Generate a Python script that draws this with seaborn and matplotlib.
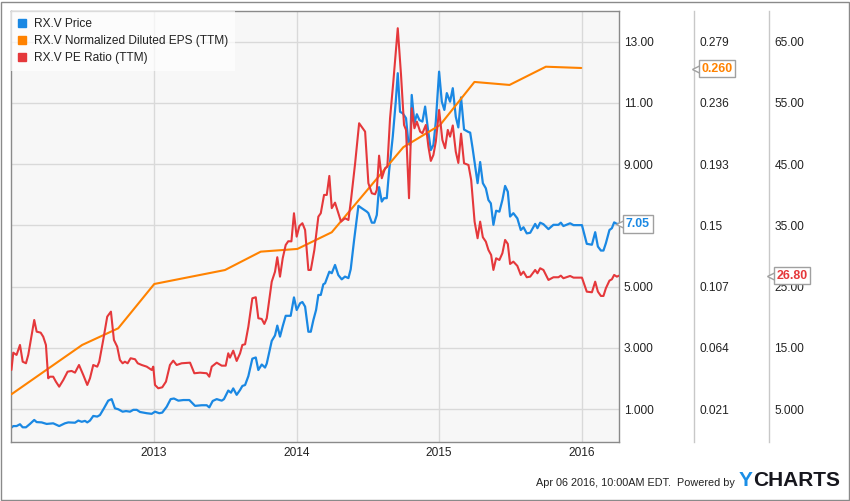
import matplotlib
matplotlib.use("Agg")
import matplotlib.pyplot as plt
import matplotlib.transforms as mtransforms
from matplotlib.lines import Line2D
from matplotlib.patches import Rectangle
import pandas as pd
import seaborn as sns

# ---- data (x = decimal year) ----
price_t = [2012.000, 2012.013, 2012.036, 2012.060, 2012.079, 2012.102, 2012.130, 2012.160, 2012.177, 2012.212,
           2012.247, 2012.293, 2012.335, 2012.375, 2012.399, 2012.446, 2012.469, 2012.493, 2012.516, 2012.532,
           2012.551, 2012.574, 2012.602, 2012.621, 2012.649, 2012.679, 2012.703, 2012.726, 2012.749, 2012.780,
           2012.804, 2012.832, 2012.855, 2012.879, 2012.902, 2012.949, 2012.984, 2013.007, 2013.037, 2013.058,
           2013.089, 2013.117, 2013.140, 2013.171, 2013.206, 2013.248, 2013.288, 2013.335, 2013.370, 2013.388,
           2013.412, 2013.440, 2013.475, 2013.491, 2013.521, 2013.540, 2013.556, 2013.580, 2013.604, 2013.620,
           2013.639, 2013.662, 2013.690, 2013.714, 2013.732, 2013.756, 2013.779, 2013.791, 2013.826, 2013.849,
           2013.865, 2013.884, 2013.903, 2013.924, 2013.959, 2013.982, 2014.001, 2014.025, 2014.041, 2014.060,
           2014.083, 2014.100, 2014.118, 2014.137, 2014.153, 2014.170, 2014.188, 2014.200, 2014.230, 2014.247,
           2014.270, 2014.293, 2014.317, 2014.340, 2014.364, 2014.380, 2014.404, 2014.434, 2014.458, 2014.493,
           2014.504, 2014.528, 2014.546, 2014.563, 2014.579, 2014.598, 2014.614, 2014.633, 2014.649, 2014.675,
           2014.696, 2014.710, 2014.726, 2014.745, 2014.768, 2014.785, 2014.797, 2014.808, 2014.827, 2014.844,
           2014.862, 2014.883, 2014.902, 2014.921, 2014.942, 2014.960, 2014.977, 2015.000, 2015.019, 2015.037,
           2015.054, 2015.077, 2015.096, 2015.117, 2015.135, 2015.154, 2015.175, 2015.206, 2015.218, 2015.235,
           2015.249, 2015.270, 2015.288, 2015.307, 2015.328, 2015.346, 2015.363, 2015.381, 2015.400, 2015.423,
           2015.444, 2015.463, 2015.482, 2015.498, 2015.521, 2015.549, 2015.573, 2015.592, 2015.615, 2015.639,
           2015.674, 2015.690, 2015.709, 2015.732, 2015.767, 2015.802, 2015.837, 2015.854, 2015.872, 2015.919,
           2015.943, 2016.002, 2016.036, 2016.072, 2016.095, 2016.114, 2016.135, 2016.153, 2016.170, 2016.195,
           2016.212, 2016.228, 2016.247, 2016.262]
price = [0.40, 0.45, 0.45, 0.51, 0.41, 0.41, 0.52, 0.65, 0.58, 0.57,
         0.52, 0.54, 0.45, 0.54, 0.57, 0.56, 0.63, 0.59, 0.62, 0.57,
         0.63, 0.78, 0.76, 0.81, 1.03, 1.28, 1.33, 1.03, 1.00, 0.92,
         0.94, 0.92, 0.98, 0.98, 0.91, 0.87, 0.85, 0.92, 0.87, 0.89,
         1.08, 1.33, 1.35, 1.28, 1.30, 1.30, 1.11, 1.13, 1.13, 1.06,
         1.27, 1.33, 1.28, 1.33, 1.61, 1.54, 1.68, 1.47, 1.63, 1.76,
         1.79, 2.08, 2.65, 2.69, 2.28, 2.46, 2.36, 2.49, 3.23, 3.41,
         3.73, 3.37, 3.71, 4.05, 4.05, 4.65, 4.24, 4.46, 4.50, 4.35,
         3.53, 3.53, 3.91, 4.24, 4.73, 4.73, 5.08, 5.11, 5.49, 5.44,
         5.71, 5.38, 5.24, 5.33, 5.28, 5.57, 6.53, 7.64, 7.56, 7.45,
         7.40, 7.09, 7.09, 7.34, 8.25, 7.78, 7.89, 7.89, 8.76, 9.90,
         11.04, 11.97, 10.71, 10.66, 10.50, 9.68, 9.63, 11.26, 10.34, 10.63,
         10.44, 10.39, 10.88, 10.17, 9.46, 9.63, 10.39, 12.02, 11.04, 10.77,
         11.32, 11.04, 11.48, 10.55, 10.20, 11.18, 10.13, 10.05, 10.03, 9.52,
         9.07, 8.38, 9.07, 8.38, 8.21, 7.83, 7.72, 7.02, 7.48, 7.45,
         7.83, 8.29, 8.10, 7.29, 7.40, 7.23, 6.85, 6.94, 6.74, 6.76,
         7.05, 6.91, 7.09, 7.04, 6.88, 7.02, 7.02, 7.09, 6.98, 7.07,
         7.01, 7.01, 6.40, 6.37, 6.78, 6.31, 6.18, 6.18, 6.42, 6.85,
         6.91, 7.10, 7.05, 7.05]

pe_t = [2012.000, 2012.013, 2012.036, 2012.060, 2012.079, 2012.102, 2012.118, 2012.160, 2012.177, 2012.205,
        2012.223, 2012.242, 2012.258, 2012.270, 2012.293, 2012.312, 2012.335, 2012.364, 2012.394, 2012.422,
        2012.446, 2012.474, 2012.504, 2012.532, 2012.551, 2012.574, 2012.602, 2012.616, 2012.644, 2012.672,
        2012.698, 2012.719, 2012.742, 2012.761, 2012.780, 2012.796, 2012.815, 2012.836, 2012.867, 2012.886,
        2012.914, 2012.949, 2012.984, 2012.995, 2013.007, 2013.030, 2013.058, 2013.084, 2013.112, 2013.135,
        2013.159, 2013.194, 2013.253, 2013.283, 2013.323, 2013.370, 2013.388, 2013.405, 2013.440, 2013.475,
        2013.503, 2013.521, 2013.533, 2013.556, 2013.580, 2013.604, 2013.620, 2013.639, 2013.662, 2013.690,
        2013.714, 2013.732, 2013.756, 2013.774, 2013.791, 2013.826, 2013.849, 2013.865, 2013.884, 2013.903,
        2013.924, 2013.942, 2013.964, 2013.982, 2014.001, 2014.020, 2014.041, 2014.060, 2014.083, 2014.100,
        2014.125, 2014.153, 2014.170, 2014.193, 2014.212, 2014.230, 2014.247, 2014.270, 2014.293, 2014.312,
        2014.340, 2014.364, 2014.382, 2014.411, 2014.439, 2014.481, 2014.504, 2014.528, 2014.551, 2014.563,
        2014.579, 2014.598, 2014.621, 2014.637, 2014.656, 2014.679, 2014.710, 2014.733, 2014.754, 2014.768,
        2014.789, 2014.808, 2014.827, 2014.844, 2014.867, 2014.883, 2014.907, 2014.925, 2014.942, 2014.960,
        2014.977, 2015.000, 2015.023, 2015.042, 2015.061, 2015.077, 2015.096, 2015.117, 2015.135, 2015.154,
        2015.175, 2015.206, 2015.225, 2015.249, 2015.270, 2015.288, 2015.307, 2015.328, 2015.346, 2015.365,
        2015.381, 2015.400, 2015.423, 2015.444, 2015.463, 2015.482, 2015.498, 2015.521, 2015.549, 2015.573,
        2015.592, 2015.615, 2015.639, 2015.674, 2015.690, 2015.709, 2015.732, 2015.767, 2015.802, 2015.837,
        2015.854, 2015.872, 2015.919, 2015.943, 2016.002, 2016.036, 2016.072, 2016.095, 2016.114, 2016.135,
        2016.153, 2016.170, 2016.195, 2016.212, 2016.228, 2016.247, 2016.262]
pe = [11.41, 14.23, 13.86, 15.49, 12.76, 12.50, 13.86, 19.57, 17.66, 17.50,
      16.84, 15.49, 10.05, 10.31, 10.31, 9.50, 8.68, 9.78, 11.13, 11.25,
      10.97, 12.22, 10.59, 8.96, 10.05, 12.22, 11.95, 12.76, 16.31, 20.11,
      20.93, 16.31, 15.21, 13.04, 12.50, 12.76, 12.50, 13.32, 13.16, 12.50,
      12.22, 11.95, 11.41, 11.95, 8.96, 8.42, 8.58, 9.50, 12.22, 12.93,
      12.22, 12.50, 12.60, 10.87, 10.97, 10.87, 10.31, 11.95, 12.60, 12.11,
      12.11, 14.13, 13.42, 14.56, 12.88, 14.13, 15.49, 15.60, 18.48, 23.11,
      23.28, 19.85, 19.73, 18.92, 19.85, 25.82, 27.45, 29.81, 26.64, 29.64,
      31.81, 32.42, 32.40, 36.99, 33.17, 34.91, 35.36, 34.26, 27.73, 27.73,
      31.00, 36.43, 36.99, 39.98, 39.98, 43.08, 37.82, 38.72, 36.99, 35.62,
      36.17, 35.89, 39.16, 45.15, 51.68, 50.31, 41.89, 40.25, 40.09, 40.79,
      46.39, 42.70, 44.33, 44.60, 52.50, 58.47, 67.19, 59.56, 51.40, 50.59,
      39.44, 54.13, 50.86, 51.94, 50.31, 50.05, 51.40, 47.86, 45.53, 46.50,
      48.68, 53.85, 48.95, 47.60, 50.59, 49.49, 51.32, 47.04, 45.20, 49.98,
      45.15, 44.87, 42.42, 35.62, 32.91, 35.62, 33.07, 32.35, 31.00, 30.18,
      27.73, 29.64, 29.36, 30.46, 32.63, 31.98, 28.71, 29.09, 28.39, 26.92,
      27.45, 26.54, 26.64, 27.73, 27.19, 28.01, 27.73, 26.10, 26.54, 26.54,
      26.80, 26.38, 26.75, 26.48, 26.48, 24.19, 24.09, 25.82, 24.19, 23.49,
      23.49, 24.75, 25.99, 26.21, 26.92, 26.64, 26.80]

eps_t = [2012.000, 2012.496, 2012.749, 2013.002, 2013.498, 2013.749, 2014.006,
         2014.247, 2014.749, 2015.007, 2015.248, 2015.494, 2015.749, 2015.997]
eps = [0.0315, 0.0661, 0.0778, 0.1089, 0.1187, 0.1316, 0.1335,
       0.1452, 0.2049, 0.2205, 0.2507, 0.2486, 0.2614, 0.2605]

year_ticks = [2013, 2014, 2015, 2016]
price_ticks = [1, 3, 5, 7, 9, 11, 13]
# the 7.000 label sits under the last-price tag, so it is left blank
price_labels = ['1.000', '3.000', '5.000', '', '9.000', '11.00', '13.00']
eps_ticks = [0.021, 0.064, 0.107, 0.15, 0.193, 0.236, 0.279]
eps_labels = ['0.021', '0.064', '0.107', '0.15', '0.193', '0.236', '0.279']
pe_ticks = [5, 15, 25, 35, 45, 55, 65]
pe_labels = ['5.000', '15.00', '25.00', '35.00', '45.00', '55.00', '65.00']

legend_names = ['RX.V Price', 'RX.V Normalized Diluted EPS (TTM)', 'RX.V PE Ratio (TTM)']

BLUE = '#1a88e3'
ORANGE = '#ff8200'
RED = '#e5383b'
TXT = '#222222'

sns.set_theme(style='white')
plt.rcParams['font.family'] = ['Liberation Sans', 'DejaVu Sans']

fig = plt.figure(figsize=(8.5, 5.01), dpi=100)
fig.patch.set_facecolor('white')
W, H = 850, 501
ax = fig.add_axes([11 / W, (H - 441.7) / H, 608 / W, 430.7 / H])
ax_eps = ax.twinx()
ax_pe = ax.twinx()

df_price = pd.DataFrame({'t': price_t, 'v': price})
df_pe = pd.DataFrame({'t': pe_t, 'v': pe})
df_eps = pd.DataFrame({'t': eps_t, 'v': eps})

sns.lineplot(data=df_eps, x='t', y='v', ax=ax_eps, color=ORANGE, linewidth=1.5, sort=False)
sns.lineplot(data=df_pe, x='t', y='v', ax=ax_pe, color=RED, linewidth=1.5, sort=False)
sns.lineplot(data=df_price, x='t', y='v', ax=ax, color=BLUE, linewidth=1.6, sort=False)

# main axis (price), ticks on the right
ax.set_facecolor('#f7f7f7')
ax.set_xlim(2011.997, 2016.262)
ax.set_ylim(-0.06, 14.0)
ax.set_xticks(year_ticks)
ax.set_xticklabels([str(y) for y in year_ticks])
ax.set_yticks(price_ticks)
ax.set_yticklabels(price_labels)
ax.yaxis.tick_right()
ax.grid(True, color='#d9d9d9', linewidth=1)
ax.set_axisbelow(True)
ax.set_xlabel('')
ax.set_ylabel('')
for s in ax.spines.values():
    s.set_visible(True)
    s.set_color('#8a8a8a')
    s.set_linewidth(1)
ax.tick_params(axis='both', length=0, labelsize=8.6, labelcolor=TXT, pad=3.6)

# secondary axes
ax_eps.set_ylim(0.0215 * -0.06 - 0.0005, 0.0215 * 14.0 - 0.0005)
ax_eps.set_yticks(eps_ticks)
ax_eps.set_yticklabels(eps_labels)
ax_pe.set_ylim(-0.3, 70.0)
ax_pe.set_yticks(pe_ticks)
ax_pe.set_yticklabels(pe_labels)
for a, pos in ((ax_eps, 1 + (694.3 - 619) / 608), (ax_pe, 1 + (769.3 - 619) / 608)):
    a.set_xlabel('')
    a.set_ylabel('')
    a.grid(False)
    for name, s in a.spines.items():
        s.set_visible(name == 'right')
    a.spines['right'].set_position(('axes', pos))
    a.spines['right'].set_color('#c8c8c8')
    a.spines['right'].set_linewidth(1)
    a.tick_params(axis='y', length=0, labelsize=8.6, labelcolor=TXT, pad=3.6)


def value_tag(a, xfrac, y, text, color):
    """Last-value tag: white box with a small pointer on its left."""
    trans = mtransforms.blended_transform_factory(a.transAxes, a.transData)
    a.plot([xfrac], [y], marker='<', markersize=7, markerfacecolor='white',
           markeredgecolor='#a0a0a0', markeredgewidth=1, transform=trans,
           clip_on=False, zorder=20)
    a.text(xfrac + 4.5 / 608, y, text, transform=trans, ha='left', va='center',
           fontsize=8.9, fontweight='bold', color=color, zorder=21, clip_on=False,
           bbox=dict(boxstyle='square,pad=0.22', facecolor='white',
                     edgecolor='#a0a0a0', linewidth=1))


value_tag(ax, 1 + 2.5 / 608, price[-1], f'{price[-1]:.2f}', BLUE)
value_tag(ax_eps, 1 + (697 - 619) / 608, 0.260, '0.260', ORANGE)
value_tag(ax_pe, 1 + (772 - 619) / 608, pe[-1], f'{pe[-1]:.2f}', RED)

# legend
handles = [Line2D([], [], linestyle='none', marker='s', markersize=6,
                  markerfacecolor=c, markeredgecolor=c) for c in (BLUE, ORANGE, RED)]
leg = ax_pe.legend(handles, legend_names, loc='upper left', bbox_to_anchor=(0, 1),
                   borderaxespad=0, frameon=True, fancybox=False, framealpha=0.7,
                   facecolor='white', edgecolor='none', fontsize=8.6,
                   handlelength=0.6, handletextpad=0.7, labelspacing=0.42,
                   borderpad=0.6)
for t in leg.get_texts():
    t.set_color(TXT)
leg.set_zorder(30)

# footer
fig.text(735 / W, 1 - 485.7 / H, 'Apr 06 2016, 10:00AM EDT.  Powered by', ha='right',
         va='baseline', fontsize=7.8, color=TXT)
y_logo = fig.text(738.5 / W, 1 - 486.5 / H, 'Y', ha='left', va='baseline',
                  fontsize=15, fontweight='bold', color='#1a8ee6')
ax.annotate('CHARTS', xy=(1, 0), xycoords=y_logo, xytext=(0.5, 0), textcoords='offset points',
            ha='left', va='bottom', fontsize=15, fontweight='bold', color='#16161d',
            annotation_clip=False)

# outer border of the image
fig.patches.append(Rectangle((1 / W, 1.5 / H), 847.5 / W, 497.5 / H, transform=fig.transFigure,
                             fill=False, edgecolor='#8a8a8a', linewidth=1))

fig.savefig('out.png', dpi=100)
